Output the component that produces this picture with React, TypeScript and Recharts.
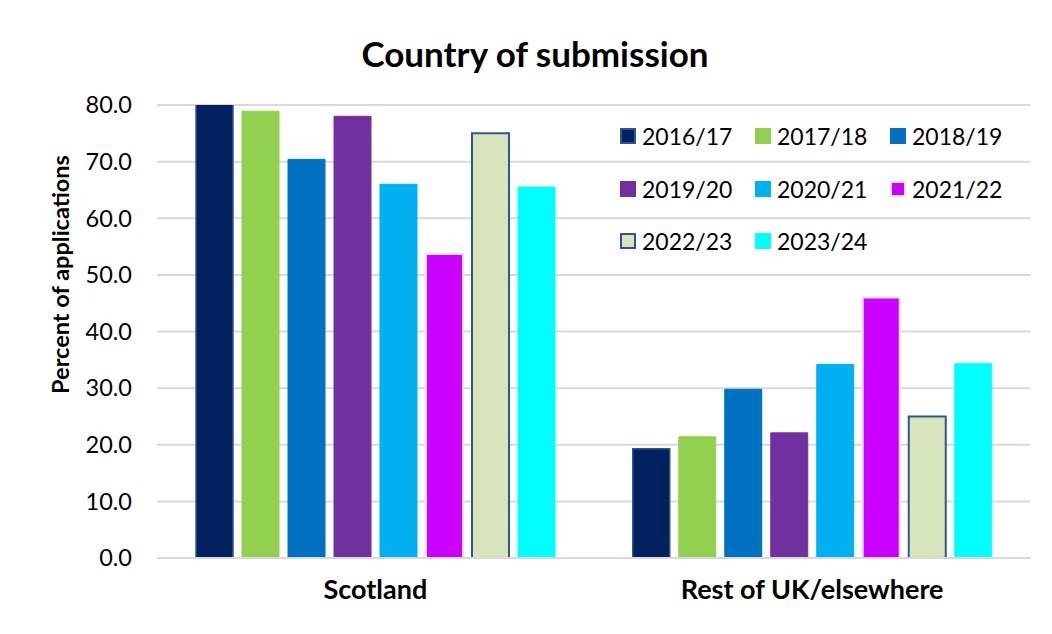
import { BarChart, Bar, XAxis, YAxis, CartesianGrid, Legend } from "recharts";

const CATEGORIES = ["Scotland", "Rest of UK/elsewhere"];
const YEARS = ["2016/17", "2017/18", "2018/19", "2019/20", "2020/21", "2021/22", "2022/23", "2023/24"];
const SCOTLAND = [80.7, 78.9, 70.4, 78.0, 66.0, 53.7, 75.0, 65.5];
const REST = [19.3, 21.4, 29.8, 22.1, 34.2, 46.0, 25.0, 34.3];
const Y_TICKS = [0, 10, 20, 30, 40, 50, 60, 70, 80];

const COLORS = ["#002060", "#92D050", "#0070C0", "#7030A0", "#00B0F0", "#CC00FF", "#D8E4BC", "#00FFFF"];
const STROKES = ["#2F5597", "#92D050", "#0070C0", "#7030A0", "#00B0F0", "#DDE3F5", "#2F5597", "#00FFFF"];
const STROKE_W = [1.5, 1, 1, 1, 1, 2, 2, 1];

const FONT = "Lato, 'Open Sans', sans-serif";

const data = CATEGORIES.map((name, ci) => {
  const vals = ci === 0 ? SCOTLAND : REST;
  const row: Record<string, string | number> = { name };
  YEARS.forEach((_, i) => (row[`y${i}`] = vals[i]));
  return row;
});

function LegendGrid(props: any) {
  const items = props.payload ?? [];
  return (
    <div style={{ display: "grid", gridTemplateColumns: "135px 135px 135px", gridAutoRows: "52.5px", fontFamily: FONT, fontSize: 23, color: "#000" }}>
      {items.map((it: any, i: number) => (
        <div key={i} style={{ display: "flex", alignItems: "center", height: 52.5 }}>
          <span
            style={{
              display: "inline-block",
              boxSizing: "border-box",
              width: 16,
              height: 16,
              background: COLORS[i],
              border: `${STROKE_W[i] > 1 ? 2 : 1}px solid ${STROKES[i]}`,
              marginRight: 6,
            }}
          />
          <span>{it.value}</span>
        </div>
      ))}
    </div>
  );
}

function YTitle(props: any) {
  const vb = props.viewBox ?? { x: 0, y: 0, width: 0, height: 0 };
  const cx = 52;
  const cy = vb.y + vb.height / 2 - 57;
  return (
    <text x={cx} y={cy} transform={`rotate(-90 ${cx} ${cy})`} textAnchor="middle" dominantBaseline="central" fontFamily={FONT} fontWeight={700} fontSize={23.5} fill="#000">
      Percent of applications
    </text>
  );
}

export default function App() {
  return (
    <div
      style={{
        position: "relative",
        width: 1044,
        height: 626,
        borderTop: "1px solid #d9d9d9",
        borderLeft: "1px solid #d9d9d9",
        marginLeft: -1,
        marginTop: -1,
        background: "#fff",
      }}
    >
      <div style={{ position: "absolute", left: 227, top: 24, width: 600, textAlign: "center", fontFamily: FONT, fontWeight: 700, fontSize: 35, color: "#000" }}>
        Country of submission
      </div>
      <BarChart width={1034} height={624} data={data} margin={{ top: 97, right: 11.5, bottom: 44, left: 0 }} barCategoryGap={39} barGap={9}>
        <CartesianGrid vertical={false} stroke="#d9d9d9" strokeWidth={2} />
        <XAxis
          dataKey="name"
          axisLine={{ stroke: "#d9d9d9", strokeWidth: 2 }}
          tickLine={false}
          tickSize={0}
          tickMargin={22}
          tick={{ fill: "#000", fontFamily: FONT, fontWeight: 700, fontSize: 27 }}
        />
        <YAxis
          width={149}
          domain={[0, 80]}
          ticks={Y_TICKS}
          allowDataOverflow
          axisLine={false}
          tickLine={false}
          tickSize={0}
          tickMargin={25}
          tickFormatter={(v: number) => v.toFixed(1)}
          tick={{ fill: "#000", fontFamily: FONT, fontSize: 23.5 }}
          label={{ content: (p: any) => <YTitle {...p} /> }}
        />
        <Legend
          layout="vertical"
          align="center"
          verticalAlign="middle"
          wrapperStyle={{ left: 612, top: 102, width: 420 }}
          content={(p: any) => <LegendGrid {...p} />}
        />
        {YEARS.map((y, i) => (
          <Bar
            key={y}
            dataKey={`y${i}`}
            name={y}
            fill={COLORS[i]}
            stroke={STROKES[i]}
            strokeWidth={STROKE_W[i]}
            isAnimationActive={false}
          />
        ))}
      </BarChart>
    </div>
  );
}
